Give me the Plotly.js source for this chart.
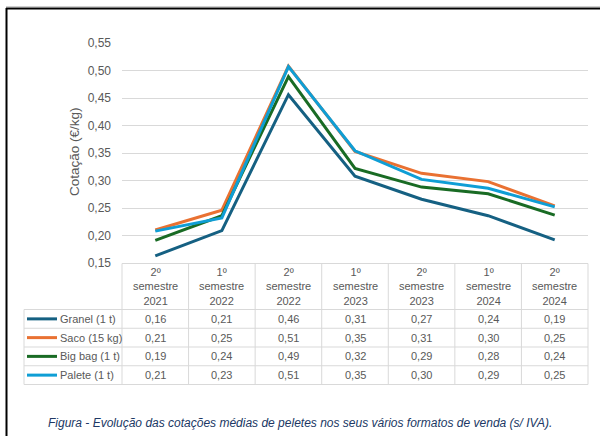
<!DOCTYPE html>
<html>
<head>
<meta charset="utf-8">
<script src="https://cdn.plot.ly/plotly-3.0.1.min.js"></script>
<style>html,body{margin:0;padding:0;background:#fff;}#chart{width:600px;height:436px;}</style>
</head>
<body>
<div id="chart"></div>
<script>
// ---- data ----
var categories = ["2º<br>semestre<br>2021", "1º<br>semestre<br>2022", "2º<br>semestre<br>2022", "1º<br>semestre<br>2023", "2º<br>semestre<br>2023", "1º<br>semestre<br>2024", "2º<br>semestre<br>2024"];
var seriesNames = ["Granel (1 t)", "Saco (15 kg)", "Big bag (1 t)", "Palete (1 t)"];
var granel = [0.163, 0.209, 0.456, 0.308, 0.266, 0.236, 0.192];
var saco   = [0.210, 0.246, 0.508, 0.353, 0.313, 0.298, 0.254];
var bigbag = [0.191, 0.236, 0.489, 0.322, 0.288, 0.276, 0.237];
var palete = [0.208, 0.232, 0.507, 0.354, 0.302, 0.286, 0.252];
var yTicks = [0.15, 0.20, 0.25, 0.30, 0.35, 0.40, 0.45, 0.50, 0.55];
var yTitle = "Cotação (€/kg)";
var caption = "Figura - Evolução das cotações médias de peletes nos seus vários formatos de venda (s/ IVA).";

var seriesValues = [granel, saco, bigbag, palete];
var colors = ["#156082", "#E97132", "#196B24", "#0F9ED5"];

// ---- geometry helpers (pixel -> paper) ----
var W = 600, H = 436, L = 122, R = 12, T = 43, B = 173;
var PW = W - L - R, PH = H - T - B;
function px(x) { return (x - L) / PW; }
function py(y) { return (H - B - y) / PH; }

var gridColor = "#d9d9d9", textColor = "#595959";
var font = "Liberation Sans, Arial, sans-serif";

var traces = seriesValues.map(function (vals, i) {
  return {
    x: categories, y: vals, type: "scatter", mode: "lines",
    name: seriesNames[i], line: {color: colors[i], width: 3},
    cliponaxis: false, hoverinfo: "skip"
  };
});

var shapes = [], annotations = [];
function hline(x0, x1, y, color, w) {
  shapes.push({type: "line", xref: "paper", yref: "paper", x0: px(x0), x1: px(x1), y0: py(y), y1: py(y), line: {color: color, width: w || 1}});
}
function vline(x, y0, y1, color, w) {
  shapes.push({type: "line", xref: "paper", yref: "paper", x0: px(x), x1: px(x), y0: py(y0), y1: py(y1), line: {color: color, width: w || 1}});
}

// table geometry
var tableTop = 263.5, headerBottom = 309.5, rowH = 18.75, legendLeft = 24;
var colW = PW / categories.length;
var nRows = seriesNames.length;
var tableBottom = headerBottom + nRows * rowH;

hline(L, L + PW, tableTop, gridColor);
for (var r = 0; r <= nRows; r++) hline(legendLeft, L + PW, headerBottom + r * rowH, gridColor);
for (var c = 0; c <= categories.length; c++) vline(L + c * colW, tableTop, tableBottom, gridColor);
vline(legendLeft, headerBottom, tableBottom, gridColor);

// header labels
categories.forEach(function (cat, c) {
  annotations.push({xref: "paper", yref: "paper", x: px(L + (c + 0.5) * colW), y: py((tableTop + headerBottom) / 2),
    text: cat, showarrow: false, xanchor: "center", yanchor: "middle",
    font: {family: font, size: 11, color: textColor}});
});

// rows
seriesNames.forEach(function (name, r) {
  var cy = headerBottom + (r + 0.5) * rowH;
  shapes.push({type: "line", xref: "paper", yref: "paper", x0: px(27), x1: px(57), y0: py(cy), y1: py(cy), line: {color: colors[r], width: 3}});
  annotations.push({xref: "paper", yref: "paper", x: px(58), y: py(cy), text: name, showarrow: false,
    xanchor: "left", yanchor: "middle", font: {family: font, size: 11, color: textColor}});
  seriesValues[r].forEach(function (v, c) {
    annotations.push({xref: "paper", yref: "paper", x: px(L + (c + 0.5) * colW), y: py(cy),
      text: v.toFixed(2).replace(".", ","), showarrow: false, xanchor: "center", yanchor: "middle",
      font: {family: font, size: 11, color: textColor}});
  });
});

// y title
annotations.push({xref: "paper", yref: "paper", x: px(74), y: py(152), text: yTitle, textangle: -90,
  showarrow: false, xanchor: "center", yanchor: "middle", font: {family: font, size: 13.5, color: textColor}});

// caption
annotations.push({xref: "paper", yref: "paper", x: px(300), y: py(423), text: "<i>" + caption + "</i>",
  showarrow: false, xanchor: "center", yanchor: "middle", font: {family: font, size: 12, color: "#203864"}});

// frame
hline(6, 600, 6.5, "#cfcfcf", 1);
hline(6, 600, 8.5, "#000000", 2);
vline(6.5, 8, 436, "#000000", 2);

var layout = {
  width: W, height: H,
  margin: {l: L, r: R, t: T, b: B, pad: 0},
  paper_bgcolor: "#ffffff", plot_bgcolor: "#ffffff",
  separators: ",.",
  showlegend: false,
  xaxis: {type: "category", range: [-0.5, categories.length - 0.5], showgrid: false, zeroline: false,
    showticklabels: false, showline: false, ticks: "", fixedrange: true},
  yaxis: {range: [0.15, 0.55], tickvals: yTicks, tickformat: ".2f", showgrid: true, gridcolor: gridColor,
    gridwidth: 1, zeroline: false, showline: false, ticks: "", ticklabelstandoff: 10,
    tickfont: {family: font, size: 12, color: textColor}, fixedrange: true},
  shapes: shapes,
  annotations: annotations
};

Plotly.newPlot("chart", traces, layout, {staticPlot: true, displayModeBar: false});
</script>
</body>
</html>
